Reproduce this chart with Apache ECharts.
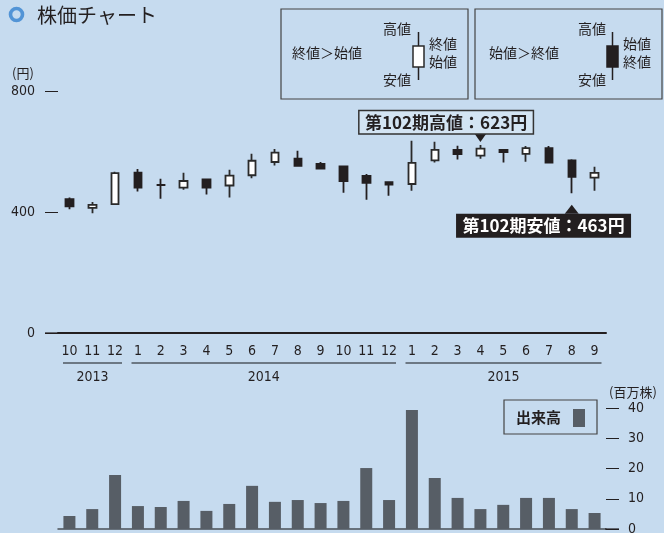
<!DOCTYPE html>
<html><head><meta charset="utf-8">
<script src="https://cdn.jsdelivr.net/npm/echarts@6.0.0/dist/echarts.min.js"></script>
<style>html,body{margin:0;padding:0;background:#c6dbef}#c{width:664px;height:533px}</style>
</head><body><div id="c"></div>
<script>
// ---- data ----
const months = ['10','11','12','1','2','3','4','5','6','7','8','9','10','11','12','1','2','3','4','5','6','7','8','9'];
const yearLabels = ['2013','2014','2015'];
const yearSpans = [3, 12, 9];
const opens  = [444,415,427,532,491,482,509,489,523,567,578,561,552,521,500,494,572,607,588,607,594,613,572,515];
const closes = [420,425,530,482,490,504,482,522,571,598,554,545,504,498,492,564,607,593,611,600,613,565,518,531];
const lows   = [410,397,426,469,445,475,459,449,513,555,551,545,465,442,455,472,565,575,578,565,568,562,463,472];
const highs  = [449,434,535,544,511,531,511,541,594,610,604,567,554,527,500,637,634,621,623,609,620,620,576,551];
const volumes = [4.3,6.6,17.9,7.6,7.3,9.3,6.0,8.3,14.3,9.0,9.6,8.6,9.3,20.2,9.6,39.4,16.9,10.3,6.6,8.0,10.3,10.3,6.6,5.3];
const priceTicks = [0, 400, 800];
const volumeTicks = [0, 10, 20, 30, 40];
const periodHighIndex = 18;
const periodLowIndex = 22;

// ---- chart ----
const NUM = "'Liberation Sans Narrow','DejaVu Sans Condensed','Noto Sans CJK JP',sans-serif";
const JP = "'Noto Sans CJK JP',sans-serif";
const INK = '#231f20';
const BG = '#c6dbef';
const chart = echarts.init(document.getElementById('c'), null, {renderer:'canvas'});
const candleData = opens.map((o,i)=>[o, closes[i], lows[i], highs[i]]);

const option = {
  backgroundColor: BG,
  animation: false,
  grid: [
    {left:58, right:58, top:91.7, bottom:200, outerBoundsMode:'none', containLabel:false},
    {left:58, right:58, top:408.3, bottom:4, outerBoundsMode:'none', containLabel:false}
  ],
  xAxis: [
    {type:'category', gridIndex:0, data:months, boundaryGap:true,
     axisLine:{lineStyle:{color:INK,width:2}}, axisTick:{show:false},
     axisLabel:{color:INK,fontSize:14,fontFamily:NUM,margin:11,interval:0}},
    {type:'category', gridIndex:1, data:months, boundaryGap:true,
     axisLine:{lineStyle:{color:'#4a5057',width:1.5}}, axisTick:{show:false},
     axisLabel:{show:false}}
  ],
  yAxis: [
    {type:'value', gridIndex:0, min:priceTicks[0], max:priceTicks[priceTicks.length-1], interval:priceTicks[1]-priceTicks[0],
     axisLine:{show:false}, splitLine:{show:false},
     axisTick:{show:true,length:13,lineStyle:{color:INK,width:1}},
     axisLabel:{color:INK,fontSize:14,fontFamily:NUM,margin:23}},
    {type:'value', gridIndex:1, position:'right', min:volumeTicks[0], max:volumeTicks[volumeTicks.length-1], interval:volumeTicks[1]-volumeTicks[0],
     axisLine:{show:false}, splitLine:{show:false},
     axisTick:{show:true,length:13,lineStyle:{color:INK,width:1}},
     axisLabel:{color:INK,fontSize:14,fontFamily:NUM,margin:22}}
  ],
  series: [
    {type:'candlestick', xAxisIndex:0, yAxisIndex:0, data:candleData, barWidth:8,
     itemStyle:{color:'#ffffff', color0:INK, borderColor:'#2a2a2a', borderColor0:INK, borderWidth:1.8}},
    {type:'bar', xAxisIndex:1, yAxisIndex:1, data:volumes, barWidth:12,
     itemStyle:{color:'#575e66'}}
  ]
};
chart.setOption(option);

// ---- annotations (positions derived from axes) ----
const cx = i => chart.convertToPixel({xAxisIndex:0}, i);
const py = v => chart.convertToPixel({yAxisIndex:0}, v);
const vy = v => chart.convertToPixel({yAxisIndex:1}, v);
const band = cx(1) - cx(0);
function txt(text, x, y, size, opts) {
  opts = opts || {};
  return {type:'text', z:10, style:{text:text, x:x, y:y, fill:opts.fill||INK,
    font:(opts.weight||'normal')+' '+size+'px '+(opts.family||JP),
    textAlign:opts.align||'left', align:opts.align||'left',
    textVerticalAlign:'middle', verticalAlign:'middle'}};
}
const g = [];
// title
g.push({type:'circle', shape:{cx:16.5,cy:14.5,r:6}, style:{fill:'none',stroke:'#5294d6',lineWidth:3.6}});
g.push(txt('株価チャート', 37, 15.5, 20));
// unit labels
g.push(txt('(円)', 12, 73, 13));
g.push(txt('(百万株)', 609, 392, 13));
// zero ticks
const p0 = py(priceTicks[0]), v0 = vy(volumeTicks[0]);
g.push({type:'line', z:20, shape:{x1:45,y1:p0,x2:59,y2:p0}, style:{stroke:INK,lineWidth:1.2}});
g.push({type:'line', z:20, shape:{x1:605,y1:v0,x2:619,y2:v0}, style:{stroke:INK,lineWidth:1.2}});
// legend box 1
g.push({type:'rect', shape:{x:281,y:9,width:187,height:90}, style:{fill:'none',stroke:'#444',lineWidth:1.2}});
g.push(txt('終値＞始値', 292, 53, 14));
g.push(txt('高値', 383, 29, 14));
g.push(txt('安値', 383, 80, 14));
g.push(txt('終値', 429, 44, 14));
g.push(txt('始値', 429, 62, 14));
g.push({type:'line', shape:{x1:418.5,y1:32,x2:418.5,y2:80}, style:{stroke:INK,lineWidth:1.5}});
g.push({type:'rect', shape:{x:413,y:46,width:11,height:21}, style:{fill:'#fff',stroke:'#2a2a2a',lineWidth:1.5}});
// legend box 2
g.push({type:'rect', shape:{x:475,y:9,width:187,height:90}, style:{fill:'none',stroke:'#444',lineWidth:1.2}});
g.push(txt('始値＞終値', 489, 53, 14));
g.push(txt('高値', 578, 29, 14));
g.push(txt('安値', 578, 80, 14));
g.push(txt('始値', 623, 44, 14));
g.push(txt('終値', 623, 62, 14));
g.push({type:'line', shape:{x1:612.5,y1:32,x2:612.5,y2:80}, style:{stroke:INK,lineWidth:1.5}});
g.push({type:'rect', shape:{x:607,y:46,width:11,height:21}, style:{fill:INK,stroke:INK,lineWidth:1.5}});
// years
let start = 0;
yearLabels.forEach((y, k) => {
  const end = start + yearSpans[k] - 1;
  const x1 = cx(start) - band/2 + 5, x2 = cx(end) + band/2 - 4.5;
  g.push({type:'line', shape:{x1:x1,y1:363,x2:x2,y2:363}, style:{stroke:'#6c7884',lineWidth:2}});
  g.push(txt(y, (x1+x2)/2, 377, 14, {align:'center', family:NUM}));
  start = end + 1;
});
// period high
const hx = cx(periodHighIndex), hy = py(highs[periodHighIndex]);
g.push({type:'polygon', shape:{points:[[hx-6,hy-11.5],[hx+6,hy-11.5],[hx,hy-3]]}, style:{fill:INK}});
g.push({type:'rect', shape:{x:hx-121.6,y:hy-34.6,width:174.6,height:23.6}, style:{fill:'#d3e4f3',stroke:'#333',lineWidth:1.5}});
g.push(txt('第102期高値：' + highs[periodHighIndex] + '円', hx-121.6+87.3, hy-22.8, 17, {align:'center', weight:'bold'}));
// period low
const lx = cx(periodLowIndex), ly = py(lows[periodLowIndex]);
g.push({type:'polygon', shape:{points:[[lx-7,ly+20.5],[lx+7,ly+20.5],[lx,ly+11.5]]}, style:{fill:INK}});
g.push({type:'rect', shape:{x:lx-115.7,y:ly+20.5,width:175,height:24}, style:{fill:INK}});
g.push(txt('第102期安値：' + lows[periodLowIndex] + '円', lx-115.7+87.5, ly+32.5, 17, {align:'center', weight:'bold', fill:'#ffffff'}));
// volume legend
g.push({type:'rect', shape:{x:504,y:400,width:93,height:34}, style:{fill:'none',stroke:'#444',lineWidth:1.2}});
g.push(txt('出来高', 516, 417, 15, {weight:'bold'}));
g.push({type:'rect', shape:{x:573,y:409,width:12,height:18}, style:{fill:'#575e66'}});

chart.setOption({graphic:{elements:g}});
</script>
</body></html>
